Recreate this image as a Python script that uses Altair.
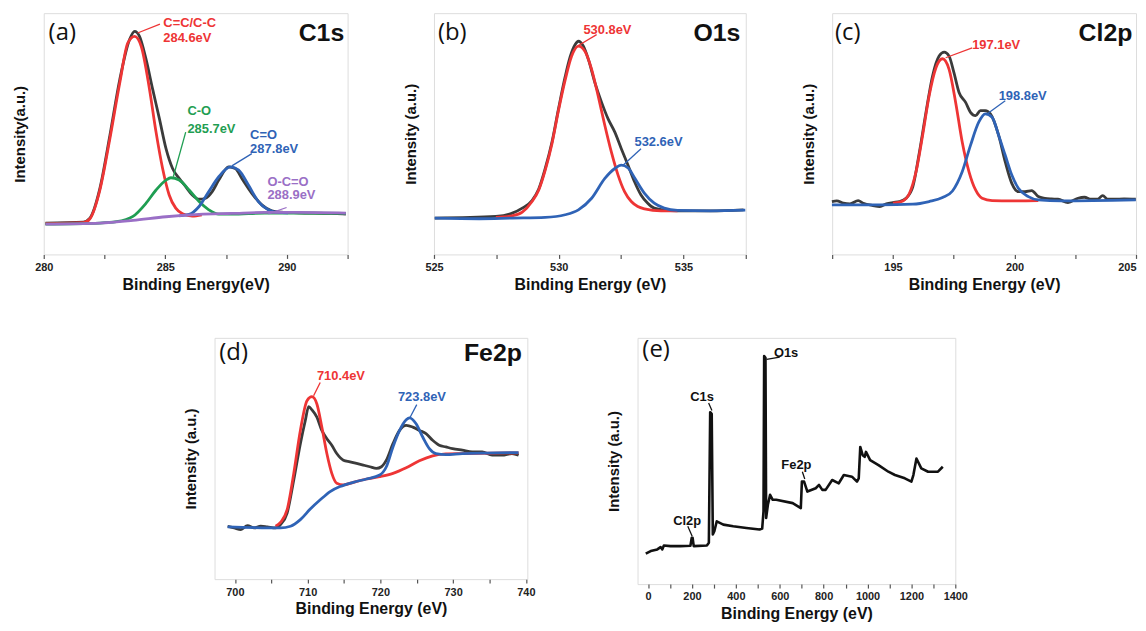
import altair as alt
import pandas as pd

# ---------------- colours ----------------
RED = "#ee3535"
GREEN = "#1f9e52"
BLUE = "#2f63b6"
PURPLE = "#9a6fc6"
RAW = "#3b3b3b"

# ---------------- (a) C1s ----------------
A_RAW_X = [280.07, 281.63, 281.90, 282.31, 282.72, 283.13, 283.53, 283.74, 283.94, 284.21, 284.48, 284.76,
           285.03, 285.30, 285.57, 285.84, 286.11, 286.39, 286.66, 286.93, 287.20, 287.61, 287.88, 288.15,
           288.56, 288.97, 289.38, 289.78, 290.46, 291.82, 292.43]
A_RAW_Y = [95, 98, 110, 200, 360, 530, 650, 675, 660, 590, 500, 410, 320, 260, 230, 205, 180, 167, 170,
           190, 225, 265, 260, 230, 185, 150, 132, 128, 126, 124, 122]
A_CC_X = [280.07, 281.63, 281.90, 282.31, 282.72, 283.13, 283.46, 283.74, 284.01, 284.35, 284.62, 284.89,
          285.16, 285.43, 285.71, 286.11, 286.5]
A_CC_Y = [93, 96, 108, 195, 350, 520, 640, 660, 630, 500, 370, 260, 180, 140, 123, 116, 120]
A_CO_X = [280.07, 282.31, 282.99, 283.67, 284.21, 284.62, 285.03, 285.23, 285.57, 285.98, 286.39, 286.79,
          287.20, 287.74, 289.10, 292.43]
A_CO_Y = [92, 95, 99, 115, 155, 195, 225, 232, 225, 195, 160, 135, 122, 122, 125, 124]
A_CEO_X = [285.57, 285.98, 286.39, 286.79, 287.20, 287.68, 288.02, 288.42, 288.83, 289.24, 289.65, 290.05]
A_CEO_Y = [117, 121, 145, 190, 235, 265, 255, 210, 160, 135, 127, 126]
A_OCO_X = [280.07, 282.31, 283.67, 285.03, 286.39, 287.74, 289.10, 290.46, 292.43]
A_OCO_Y = [92, 95, 103, 114, 121, 124, 127, 127, 125]
A_ANN_TEXT = ["C=C/C-C", "284.6eV", "C-O", "285.7eV", "C=O", "287.8eV", "O-C=O", "288.9eV"]
A_ANN_KEY = ["r", "r", "g", "g", "b", "b", "p", "p"]
A_ANN_X = [284.92, 284.92, 285.91, 285.91, 288.49, 288.49, 289.20, 289.20]
A_ANN_Y = [700, 655, 435, 380, 360, 320, 220, 180]
A_LEAD_KEY = ["r", "g", "b", "p"]
A_LEAD_X1 = [283.86, 285.33, 287.74, 289.24]
A_LEAD_Y1 = [670, 235, 268, 123]
A_LEAD_X2 = [284.78, 285.84, 288.56, 289.99]
A_LEAD_Y2 = [697, 370, 305, 142]

# ---------------- (b) O1s ----------------
B_RAW_X = [525.03, 527.48, 528.14, 528.54, 528.93, 529.20, 529.46, 529.73, 529.99, 530.26, 530.46, 530.66,
           530.79, 530.99, 531.19, 531.45, 531.72, 531.98, 532.25, 532.51, 532.78, 533.04, 533.30, 533.57,
           533.83, 534.23, 534.76, 536.09, 537.41]
B_RAW_Y = [110, 115, 125, 140, 163, 198, 260, 340, 440, 538, 598, 635, 645, 630, 590, 520, 460, 410, 370,
           320, 270, 220, 180, 155, 140, 134, 132, 132, 135]
B_P1_X = [527.48, 528.14, 528.54, 528.93, 529.20, 529.46, 529.73, 529.99, 530.26, 530.52, 530.79, 531.05,
          531.32, 531.58, 531.85, 532.11, 532.38, 532.64, 532.91, 533.17, 533.44, 534.10, 534.76]
B_P1_Y = [112, 117, 128, 160, 195, 255, 335, 435, 528, 600, 630, 615, 560, 480, 390, 310, 240, 190, 160,
          145, 138, 132, 132]
B_P2_X = [525.03, 526.81, 528.14, 529.46, 530.26, 530.79, 531.32, 531.85, 532.25, 532.51, 532.78, 533.04,
          533.44, 533.83, 534.23, 534.76, 536.09, 537.48]
B_P2_Y = [110, 108, 110, 112, 120, 135, 170, 230, 260, 270, 262, 232, 185, 155, 140, 133, 132, 134]
B_ANN_TEXT = ["530.8eV", "532.6eV"]
B_ANN_KEY = ["r", "b"]
B_ANN_X = [530.99, 533.04]
B_ANN_Y = [680, 340]
B_LEAD_KEY = ["r", "b"]
B_LEAD_X1 = [530.79, 532.58]
B_LEAD_Y1 = [632, 270]
B_LEAD_X2 = [531.52, 533.30]
B_LEAD_Y2 = [665, 320]

# ---------------- (c) Cl2p ----------------
C_RAW_X = [192.49, 192.69, 192.96, 193.23, 193.57, 193.78, 194.18, 194.46, 194.73, 195.00, 195.27, 195.54,
           195.82, 196.09, 196.36, 196.63, 196.90, 197.11, 197.31, 197.51, 197.72, 197.99, 198.19, 198.40,
           198.60, 198.80, 199.01, 199.35, 199.62, 199.89, 200.16, 200.43, 200.71, 200.98, 201.25, 201.52,
           201.79, 202.20, 202.61, 202.88, 203.15, 203.42, 203.63, 203.83, 204.10, 204.51, 204.99]
C_RAW_Y = [160, 162, 155, 153, 163, 155, 148, 145, 153, 157, 160, 170, 205, 310, 430, 540, 600, 612, 600,
           550, 490, 460, 430, 420, 435, 435, 425, 360, 280, 215, 190, 190, 193, 175, 170, 168, 167, 157,
           170, 173, 167, 167, 178, 167, 167, 168, 167]
C_P1_X = [195.00, 195.41, 195.68, 195.95, 196.22, 196.49, 196.77, 197.04, 197.31, 197.58, 197.85, 198.13,
          198.40, 198.67, 199.08, 199.89, 200.98]
C_P1_Y = [155, 162, 185, 250, 360, 480, 565, 592, 560, 460, 340, 250, 195, 170, 163, 162, 163]
C_P2_X = [192.49, 194.46, 195.82, 196.49, 197.04, 197.45, 197.85, 198.19, 198.53, 198.80, 199.08, 199.35,
          199.62, 199.89, 200.16, 200.57, 200.98, 201.93, 204.99]
C_P2_Y = [150, 150, 152, 160, 172, 192, 250, 330, 400, 425, 415, 360, 300, 240, 200, 175, 165, 162, 165]
C_ANN_TEXT = ["197.1eV", "198.8eV"]
C_ANN_KEY = ["r", "b"]
C_ANN_X = [198.26, 199.35]
C_ANN_Y = [635, 480]
C_LEAD_KEY = ["r", "b"]
C_LEAD_X1 = [197.17, 198.87]
C_LEAD_Y1 = [595, 425]
C_LEAD_X2 = [198.26, 199.62]
C_LEAD_Y2 = [625, 465]

# ---------------- (d) Fe2p ----------------
D_RAW_X = [699.0, 699.91, 700.82, 701.73, 702.64, 703.55, 704.45, 705.59, 706.27, 707.18, 708.09, 709.0,
           709.68, 710.14, 710.59, 711.27, 711.95, 712.64, 713.32, 714.0, 714.91, 715.82, 716.73, 717.64,
           718.55, 719.45, 720.14, 720.82, 721.73, 722.64, 723.55, 724.45, 725.36, 726.27, 727.18, 728.09,
           729.0, 729.91, 731.27, 732.64, 734.0, 735.36, 736.73, 738.09, 739.0]
D_RAW_Y = [160, 155, 150, 162, 155, 160, 158, 155, 165, 200, 300, 410, 480, 522, 512, 490, 450, 425, 405,
           380, 360, 355, 350, 345, 340, 335, 340, 360, 410, 450, 465, 460, 450, 440, 420, 405, 400, 395,
           390, 385, 385, 375, 375, 380, 375]
D_P1_X = [705.59, 706.27, 707.18, 708.09, 709.0, 709.91, 710.59, 711.27, 711.95, 712.64, 713.32, 714.0,
          714.91, 716.27, 718.09, 719.91, 721.73, 723.55, 725.36, 727.18, 729.0, 731.27, 739.0]
D_P1_Y = [160, 172, 210, 320, 450, 540, 552, 530, 460, 380, 320, 290, 285, 293, 303, 310, 320, 337, 358,
          373, 379, 380, 382]
D_P2_X = [699.0, 706.27, 707.64, 709.0, 710.36, 711.73, 713.09, 714.45, 716.27, 718.09, 719.91, 720.82,
          721.73, 722.64, 723.55, 724.0, 724.91, 725.82, 726.73, 727.64, 729.0, 731.27, 739.0]
D_P2_Y = [158, 155, 160, 180, 212, 240, 265, 280, 293, 303, 315, 340, 400, 450, 482, 488, 470, 430, 395,
          380, 377, 380, 383]
D_ANN_TEXT = ["710.4eV", "723.8eV"]
D_ANN_KEY = ["r", "b"]
D_ANN_X = [711.27, 722.41]
D_ANN_Y = [615, 550]
D_LEAD_KEY = ["r", "b"]
D_LEAD_X1 = [710.82, 724.09]
D_LEAD_Y1 = [555, 490]
D_LEAD_X2 = [711.73, 725.0]
D_LEAD_Y2 = [595, 528]

# ---------------- (e) survey ----------------
E_X = [-10.5, 12, 42, 57, 65, 72, 102, 147, 193, 199, 203, 208, 268, 277, 283, 290, 295, 302, 313, 343,
       388, 448, 508, 520, 526, 529, 535, 538, 546, 556, 568, 584, 659, 696, 701, 711, 726, 764, 779, 794,
       809, 839, 869, 892, 929, 952, 960, 967, 978, 987, 993, 1012, 1050, 1095, 1125, 1170, 1200, 1209,
       1223, 1245, 1276, 1321, 1343]
E_Y = [92, 100, 105, 112, 105, 117, 115, 115, 116, 140, 140, 115, 117, 125, 520, 515, 150, 160, 190, 180,
       175, 170, 165, 168, 220, 690, 685, 200, 240, 270, 255, 255, 245, 230, 310, 310, 280, 290, 300, 285,
       285, 315, 305, 330, 325, 310, 320, 415, 390, 385, 400, 375, 360, 340, 330, 320, 310, 330, 380, 350,
       340, 340, 355]
E_ANN_TEXT = ["O1s", "C1s", "Fe2p", "Cl2p"]
E_ANN_X = [629, 246, 676, 178]
E_ANN_Y = [700, 565, 360, 190]
E_LEAD_X1 = [540, 291, 714, 201]
E_LEAD_Y1 = [680, 525, 318, 145]
E_LEAD_X2 = [600, 276, 703, 181]
E_LEAD_Y2 = [687, 548, 340, 175]

PANEL_TAG = ["(a)", "(b)", "(c)", "(d)", "(e)"]
PANEL_NAME = ["C1s", "O1s", "Cl2p", "Fe2p", ""]

KEYCOL = {"r": RED, "g": GREEN, "b": BLUE, "p": PURPLE, "k": "#111111"}

FONT = "Liberation Sans"


def panel(curves, ann, leads, tag, name, xdom, ydom, ticks, major, xtitle, ytitle, w, h, tagpos, namepos,
          ann_align="left", interp="monotone", flush=False):
    xs = alt.Scale(domain=xdom, nice=False, zero=False)
    ys = alt.Scale(domain=ydom, nice=False, zero=False)
    xa = alt.Axis(values=ticks,
                  labelExpr=f"datum.value % {major} == 0 ? format(datum.value, 'd') : ''",
                  title=xtitle, grid=False, domain=False, tickSize=4, tickColor="#555555", tickWidth=1.2,
                  labelFont=FONT, labelFontWeight="bold", labelFontSize=11, labelColor="#222222",
                  labelPadding=3, labelFlush=flush,
                  titleFont=FONT, titleFontWeight="bold", titleFontSize=16, titleColor="#111111",
                  titlePadding=4)
    ya = alt.Axis(labels=False, ticks=False, domain=False, grid=False, title=ytitle, titleFont=FONT,
                  titleFontWeight="bold", titleFontSize=15, titleColor="#111111", titlePadding=16)
    X = alt.X("x:Q", scale=xs, axis=xa)
    Y = alt.Y("y:Q", scale=ys, axis=ya)
    layers = []
    for cx, cy, col, sw in curves:
        df = pd.DataFrame({"x": cx, "y": cy})
        layers.append(alt.Chart(df).mark_line(color=col, strokeWidth=sw, interpolate=interp,
                                              strokeJoin="round").encode(x=X, y=Y))
    lx1, ly1, lx2, ly2, lkey = leads
    ldf = pd.DataFrame({"x": lx1, "y": ly1, "x2": lx2, "y2": ly2, "c": [KEYCOL[k] for k in lkey]})
    layers.append(alt.Chart(ldf).mark_rule(strokeWidth=1.3).encode(
        x=X, y=Y, x2="x2:Q", y2="y2:Q", color=alt.Color("c:N", scale=None)))
    at, ax_, ay, akey = ann
    adf = pd.DataFrame({"x": ax_, "y": ay, "t": at, "c": [KEYCOL[k] for k in akey]})
    layers.append(alt.Chart(adf).mark_text(font=FONT, fontWeight="bold", fontSize=13, align=ann_align,
                                           baseline="middle").encode(
        x=X, y=Y, text="t:N", color=alt.Color("c:N", scale=None)))
    tdf = pd.DataFrame({"x": [tagpos[0]], "y": [tagpos[1]], "t": [tag]})
    layers.append(alt.Chart(tdf).mark_text(font="Open Sans", fontSize=24, align="left", baseline="middle",
                                           color="#111111").encode(x=X, y=Y, text="t:N"))
    if name:
        ndf = pd.DataFrame({"x": [namepos[0]], "y": [namepos[1]], "t": [name]})
        layers.append(alt.Chart(ndf).mark_text(font=FONT, fontWeight="bold", fontSize=25, align="right",
                                               baseline="middle", color="#111111").encode(x=X, y=Y,
                                                                                          text="t:N"))
    return alt.layer(*layers).properties(width=w, height=h)


LW = 2.8
pa = panel([(A_RAW_X, A_RAW_Y, RAW, LW), (A_CC_X, A_CC_Y, RED, LW), (A_CO_X, A_CO_Y, GREEN, LW),
            (A_CEO_X, A_CEO_Y, BLUE, LW), (A_OCO_X, A_OCO_Y, PURPLE, LW)],
           (A_ANN_TEXT, A_ANN_X, A_ANN_Y, A_ANN_KEY),
           (A_LEAD_X1, A_LEAD_Y1, A_LEAD_X2, A_LEAD_Y2, A_LEAD_KEY),
           PANEL_TAG[0], PANEL_NAME[0], [280, 292.5], [0, 730], [280, 282.5, 285, 287.5, 290, 292.5], 5,
           "Binding Energy(eV)", "Intensity(a.u.)", 306, 243, (280.2, 670), (292.36, 670))
pb = panel([(B_RAW_X, B_RAW_Y, RAW, LW), (B_P1_X, B_P1_Y, RED, LW), (B_P2_X, B_P2_Y, BLUE, LW)],
           (B_ANN_TEXT, B_ANN_X, B_ANN_Y, B_ANN_KEY),
           (B_LEAD_X1, B_LEAD_Y1, B_LEAD_X2, B_LEAD_Y2, B_LEAD_KEY),
           PANEL_TAG[1], PANEL_NAME[1], [525, 537.5], [0, 730], [525, 527.5, 530, 532.5, 535, 537.5], 5,
           "Binding Energy (eV)", "Intensity (a.u.)", 314, 243, (525.16, 670), (537.28, 670))
pc = panel([(C_RAW_X, C_RAW_Y, RAW, LW), (C_P1_X, C_P1_Y, RED, LW), (C_P2_X, C_P2_Y, BLUE, LW)],
           (C_ANN_TEXT, C_ANN_X, C_ANN_Y, C_ANN_KEY),
           (C_LEAD_X1, C_LEAD_Y1, C_LEAD_X2, C_LEAD_Y2, C_LEAD_KEY),
           PANEL_TAG[2], PANEL_NAME[2], [192.5, 205], [0, 730], [192.5, 195, 197.5, 200, 202.5, 205], 5,
           "Binding Energy (eV)", "Intensity (a.u.)", 306, 243, (192.62, 670), (204.85, 670), flush=True)
pd_ = panel([(D_RAW_X, D_RAW_Y, RAW, LW), (D_P1_X, D_P1_Y, RED, LW), (D_P2_X, D_P2_Y, BLUE, LW)],
            (D_ANN_TEXT, D_ANN_X, D_ANN_Y, D_ANN_KEY),
            (D_LEAD_X1, D_LEAD_Y1, D_LEAD_X2, D_LEAD_Y2, D_LEAD_KEY),
            PANEL_TAG[3], PANEL_NAME[3], [697.2, 740.2], [0, 730], list(range(700, 741, 5)), 10,
            "Binding Energy (eV)", "Intensity (a.u.)", 315, 243, (697.86, 685), (739.45, 685))
pe = panel([(E_X, E_Y, "#111111", 2.6)],
           (E_ANN_TEXT, E_ANN_X, E_ANN_Y, ["k"] * 4),
           (E_LEAD_X1, E_LEAD_Y1, E_LEAD_X2, E_LEAD_Y2, ["k"] * 4),
           PANEL_TAG[4], PANEL_NAME[4], [-48, 1400], [0, 745], list(range(0, 1401, 100)), 200,
           "Binding Energy (eV)", "Intensity (a.u.)", 320, 248, (-26, 708), (1390, 708),
           ann_align="center", interp="linear")

spacer = alt.Chart(pd.DataFrame({"x": [0]})).mark_point(opacity=0, size=1).encode(
    x=alt.value(0), y=alt.value(0)).properties(width=69, height=10,
                                               view=alt.ViewBackground(stroke="transparent"))

top = alt.hconcat(pa, pb, pc, spacing=53)
bottom = alt.hconcat(spacer, pd_, pe, spacing=70)
chart = alt.vconcat(top, bottom, spacing=44).properties(
    padding={"left": 4, "top": 2, "right": 0, "bottom": 0}
).configure_view(stroke="#555555", strokeWidth=1.5).configure(background="white")

chart.save("out.html", embed_options={"renderer": "svg", "actions": False})
